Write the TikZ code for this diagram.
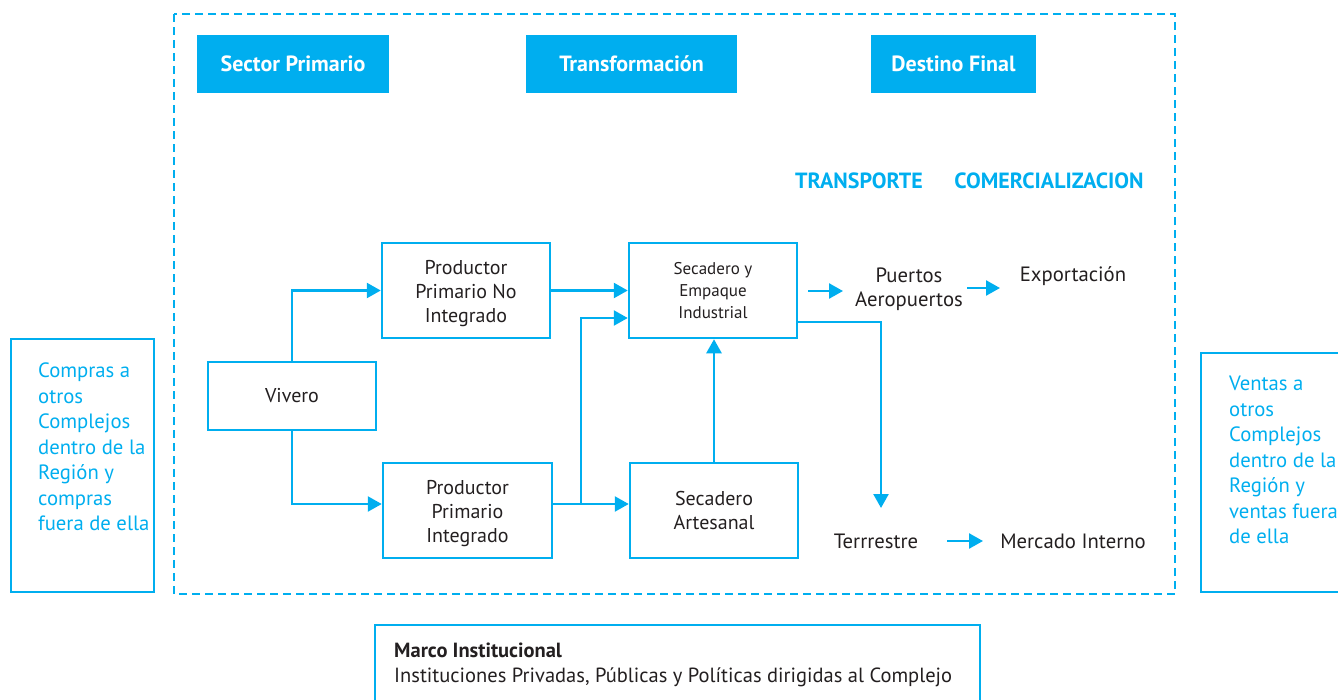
\documentclass[tikz,border=0pt]{standalone}
\usepackage{fontspec}
\setmainfont{PT Sans}
\usetikzlibrary{arrows.meta,positioning,calc}
\definecolor{cy}{HTML}{00AEEF}
\definecolor{tx}{HTML}{231F20}
\tikzset{
  box/.style={draw=cy,line width=2.5pt,minimum width=168pt,minimum height=95pt,align=center,inner sep=0pt,text=tx,font=\fontsize{20}{24}\selectfont},
  hdr/.style={fill=cy,text=white,font=\bfseries\fontsize{22}{24}\selectfont,minimum height=58pt,inner sep=0pt},
  sub/.style={text=cy,font=\bfseries\fontsize{22}{24}\selectfont},
  lbl/.style={text=tx,font=\fontsize{20.7}{24.5}\selectfont,align=center,inner sep=0pt},
  flow/.style={draw=cy,line width=2.5pt,-{Triangle[length=14pt,width=15pt]}},
  side/.style={draw=cy,line width=2.5pt},
  sidetxt/.style={text=cy,font=\fontsize{20.7}{25.5}\selectfont,align=left,anchor=north west,inner sep=0pt},
}
\newcommand{\lowerthree}[1]{\raisebox{-3pt}[\height][\depth]{\begin{tabular}{@{}c@{}}#1\end{tabular}}}
\begin{document}
\begin{tikzpicture}[x=1pt,y=-1pt]
\useasboundingbox (0,0) rectangle (1338,699);
% dashed frame
\draw[cy,line width=2.5pt,dash pattern=on 8pt off 5pt] (174,14) rectangle (1175,594);
% headers
\node[hdr,minimum width=192pt] (h1) at (293,63.5) {Sector Primario};
\node[hdr,minimum width=211pt] (h2) at (631.5,63.5) {Transformación};
\node[hdr,minimum width=165pt] (h3) at (953.5,63.5) {Destino Final};
\node[sub] (trp) at (859,181) {TRANSPORTE};
\node[sub] (com) at (1049,181) {COMERCIALIZACION};
% boxes
\node[box] (ppni) at (466,290.5) {\lowerthree{Productor\\Primario No\\Integrado}};
\node[box,minimum height=68pt] (viv) at (292,396) {Vivero};
\node[box,minimum width=169pt] (ppi) at (467.5,510.5) {\lowerthree{Productor\\Primario\\Integrado}};
\node[box,font=\fontsize{17}{22}\selectfont] (sei) at (713,290.5) {Secadero y\\Empaque\\Industrial};
\node[box] (sa) at (714,510.5) {Secadero\\Artesanal};
% labels
\node[lbl] (pa) at (909,289) {Puertos\\Aeropuertos};
\node[lbl] (exp) at (1073,276) {Exportación};
\node[lbl] (ter) at (876,541) {Terrrestre};
\node[lbl] (mi) at (1073,541) {Mercado Interno};
% coordinates
\coordinate (br) at (581,504);
\coordinate (tdown) at (881,508);
\coordinate (a1s) at (808,291);
\coordinate (a1e) at (843,291);
\coordinate (a2s) at (967,288);
\coordinate (a2e) at (1000,288);
\coordinate (a3s) at (947,541);
\coordinate (a3e) at (983,541);
% connectors
\draw[flow] (viv.north) |- (ppni.west);
\draw[flow] (viv.south) |- (ppi.west |- br);
\draw[flow] (ppni.east) -- (sei.west |- ppni.east);
\draw[flow] (ppi.east |- br) -- (sa.west |- br);
\draw[flow] (br) |- ([yshift=-27.5pt]sei.west);
\draw[flow] (sa.north) -- (sa.north |- sei.south);
\draw[flow] ([yshift=-31.5pt]sei.east) -| (tdown);
\draw[flow] (a1s) -- (a1e);
\draw[flow] (a2s) -- (a2e);
\draw[flow] (a3s) -- (a3e);
% side boxes
\draw[side] (11,339) rectangle (154,592);
\node[sidetxt] (lt) at (38,363) {Compras a\\otros\\Complejos\\dentro de la\\Región y\\compras\\fuera de ella};
\draw[side] (1201,353) rectangle (1345,592);
\node[sidetxt] (rt) at (1229,376) {Ventas a\\otros\\Complejos\\dentro de la\\Región y\\ventas fuera\\de ella};
% bottom box
\draw[cy,line width=2pt] (375,625) rectangle (980,710);
\node[anchor=west,inner sep=0pt,text=tx,font=\bfseries\fontsize{20.5}{22}\selectfont] (mt) at (394,650) {Marco Institucional};
\node[anchor=west,inner sep=0pt,text=tx,font=\fontsize{20.5}{22}\selectfont] (mt2) at (394,677) {Instituciones Privadas, Públicas y Políticas dirigidas al Complejo};
\end{tikzpicture}
\end{document}
